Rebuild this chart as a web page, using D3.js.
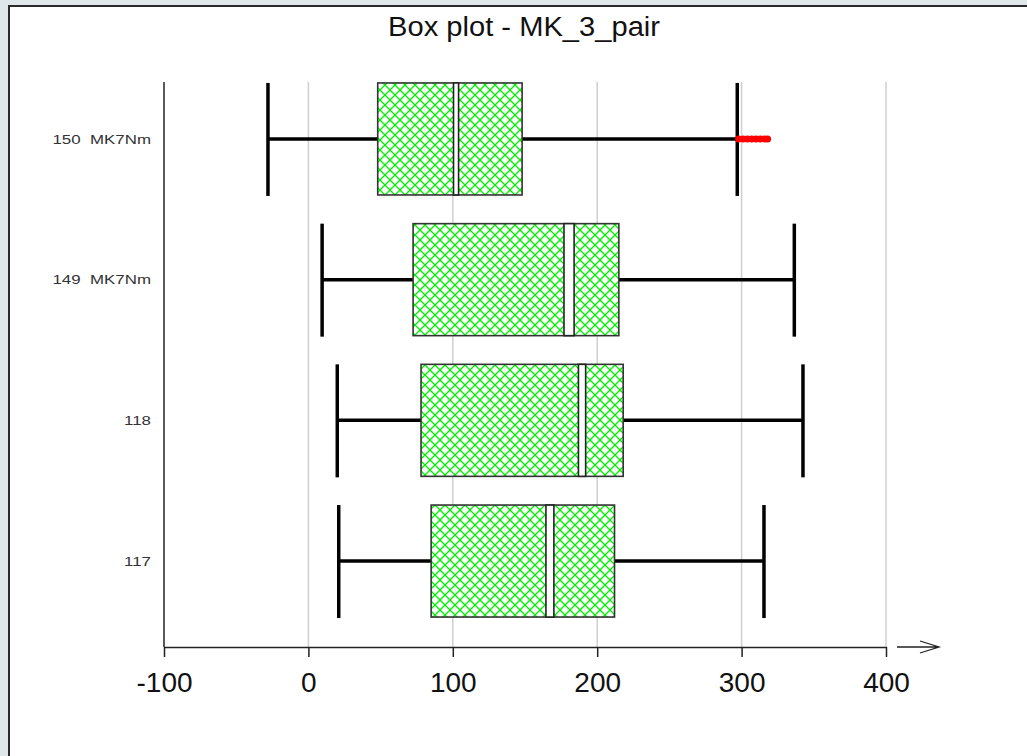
<!DOCTYPE html>
<html lang="en">
<head>
  <meta charset="UTF-8">
  <title>Box plot - MK_3_pair</title>
  <style>
    body { margin: 0; padding: 0; background: #dfe7eb; }
    svg { display: block; }
    text { font-family: "Liberation Sans", Arial, sans-serif; }
  </style>
  <script src="https://d3js.org/d3.v7.min.js"></script>
</head>
<body>
  <svg id="chart"></svg>
  <script>
    // data
    const categories  = ['150  MK7Nm', '149  MK7Nm', '118', '117'];
    const whiskerLow  = [-28, 9.5, 20, 21];
    const q1          = [48, 72.5, 78, 85];
    const medianLo    = [100.5, 177, 187, 164.5];
    const medianHi    = [104, 184, 192, 170];
    const q3          = [148, 215, 218, 212];
    const whiskerHigh = [297, 336.5, 342.5, 315.5];
    const outliers150 = [298, 301, 304, 307, 310, 313, 316, 318];
    const xTicks      = [-100, 0, 100, 200, 300, 400];

    const width = 1027, height = 756;
    const svg = d3.select('#chart').attr('width', width).attr('height', height);

    // background panel
    svg.append('rect').attr('width', width).attr('height', height).attr('fill', '#dfe7eb');
    svg.append('rect')
      .attr('x', 9).attr('y', 6).attr('width', width + 10).attr('height', height + 10)
      .attr('fill', '#fff').attr('stroke', '#2a2a2a').attr('stroke-width', 2);

    const defs = svg.append('defs');
    const pat = defs.append('pattern')
      .attr('id', 'hatch').attr('patternUnits', 'userSpaceOnUse')
      .attr('width', 10).attr('height', 10);
    pat.append('rect').attr('width', 10).attr('height', 10).attr('fill', '#fff');
    pat.append('path').attr('d', 'M0,0L10,10M10,0L0,10M-1,9L1,11M9,-1L11,1')
      .attr('stroke', '#00f000').attr('stroke-width', 1.3);

    const x = d3.scaleLinear().domain([-100, 400]).range([164, 886]);
    const y = d3.scalePoint().domain(categories).range([68.6, 631.4]).padding(0.5);
    const boxH = 112;
    const plotTop = 82, plotBottom = 647;

    // grid
    svg.append('g').selectAll('line')
      .data(xTicks.slice(1))
      .enter().append('line')
      .attr('x1', d => x(d)).attr('x2', d => x(d))
      .attr('y1', plotTop).attr('y2', plotBottom)
      .attr('stroke', '#cfcfcf').attr('stroke-width', 1.5);

    // title
    svg.append('text')
      .attr('x', 524).attr('y', 36)
      .attr('text-anchor', 'middle')
      .attr('font-size', 27)
      .attr('textLength', 272).attr('lengthAdjust', 'spacingAndGlyphs')
      .attr('fill', '#111')
      .text('Box plot - MK_3_pair');

    // y labels (stretched sideways like the original)
    svg.append('g').selectAll('text')
      .data(categories)
      .enter().append('text')
      .attr('transform', d => `translate(151,${y(d)}) scale(1.3,1)`)
      .attr('dy', '0.35em')
      .attr('text-anchor', 'end')
      .attr('font-size', 13)
      .attr('fill', '#333')
      .attr('xml:space', 'preserve')
      .style('white-space', 'pre')
      .text(d => d);

    const rows = categories.map((c, i) => ({
      c, lo: whiskerLow[i], q1: q1[i], mlo: medianLo[i], mhi: medianHi[i], q3: q3[i], hi: whiskerHigh[i]
    }));

    const g = svg.append('g');
    // whisker lines
    g.selectAll('.wl').data(rows).enter().append('line')
      .attr('x1', d => x(d.lo)).attr('x2', d => x(d.q1))
      .attr('y1', d => y(d.c)).attr('y2', d => y(d.c))
      .attr('stroke', '#000').attr('stroke-width', 3.5);
    g.selectAll('.wh').data(rows).enter().append('line')
      .attr('x1', d => x(d.q3)).attr('x2', d => x(d.hi))
      .attr('y1', d => y(d.c)).attr('y2', d => y(d.c))
      .attr('stroke', '#000').attr('stroke-width', 3.5);
    // caps
    g.selectAll('.cl').data(rows).enter().append('line')
      .attr('x1', d => x(d.lo)).attr('x2', d => x(d.lo))
      .attr('y1', d => y(d.c) - boxH / 2).attr('y2', d => y(d.c) + boxH / 2 + 1)
      .attr('stroke', '#000').attr('stroke-width', 3.5);
    g.selectAll('.ch').data(rows).enter().append('line')
      .attr('x1', d => x(d.hi)).attr('x2', d => x(d.hi))
      .attr('y1', d => y(d.c) - boxH / 2).attr('y2', d => y(d.c) + boxH / 2 + 1)
      .attr('stroke', '#000').attr('stroke-width', 3.5);
    // boxes
    g.selectAll('.box').data(rows).enter().append('rect')
      .attr('x', d => x(d.q1)).attr('width', d => x(d.q3) - x(d.q1))
      .attr('y', d => y(d.c) - boxH / 2).attr('height', boxH)
      .attr('fill', 'url(#hatch)').attr('stroke', '#333').attr('stroke-width', 1.6);
    // median band
    g.selectAll('.med').data(rows).enter().append('rect')
      .attr('x', d => x(d.mlo)).attr('width', d => x(d.mhi) - x(d.mlo))
      .attr('y', d => y(d.c) - boxH / 2).attr('height', boxH)
      .attr('fill', '#fff').attr('stroke', '#222').attr('stroke-width', 1.6);

    // outliers
    g.selectAll('.out').data(outliers150).enter().append('circle')
      .attr('cx', d => x(d)).attr('cy', y(categories[0]))
      .attr('r', 3.5).attr('fill', '#ff0000');

    // axes
    const xAxis = d3.axisBottom(x).tickValues(xTicks).tickFormat(d => String(d))
      .tickSize(10).tickSizeOuter(0).tickPadding(15);
    const ax = svg.append('g').attr('transform', `translate(0,${plotBottom})`).call(xAxis);
    ax.select('.domain').attr('stroke', '#222').attr('stroke-width', 1.5);
    ax.selectAll('.tick line').attr('stroke', '#222').attr('stroke-width', 1.5);
    ax.selectAll('.tick text').attr('font-size', 28).attr('fill', '#111')
      .attr('font-family', '"Liberation Sans", Arial, sans-serif');

    svg.append('line')
      .attr('x1', x(-100)).attr('x2', x(-100))
      .attr('y1', plotTop).attr('y2', plotBottom)
      .attr('stroke', '#222').attr('stroke-width', 1.5);

    // axis arrow
    svg.append('path')
      .attr('d', `M${x(400) + 11},${plotBottom}H${x(400) + 53}M${x(400) + 34},${plotBottom - 6}L${x(400) + 53},${plotBottom}L${x(400) + 34},${plotBottom + 6}`)
      .attr('fill', 'none').attr('stroke', '#222').attr('stroke-width', 1.3);
  </script>
</body>
</html>
